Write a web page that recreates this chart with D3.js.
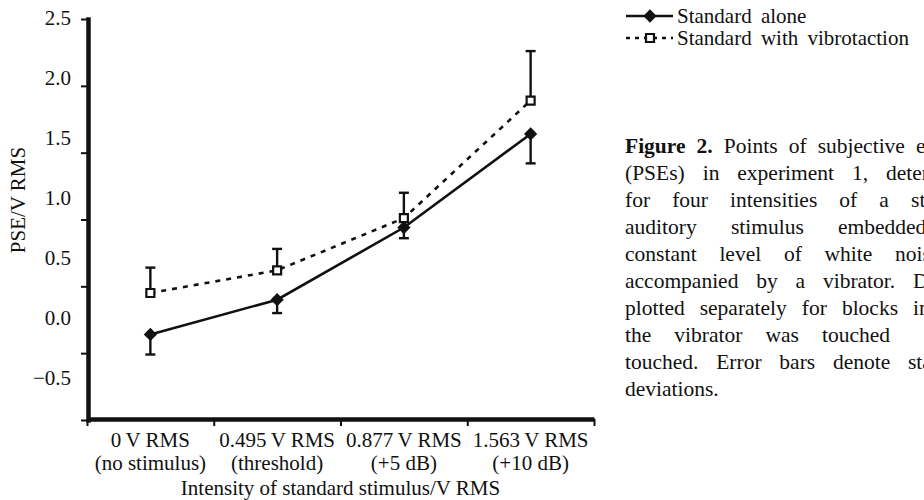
<!DOCTYPE html>
<html><head><meta charset="utf-8">
<script src="https://cdn.jsdelivr.net/npm/d3@7"></script>
<style>
html,body{margin:0;padding:0;background:#fff;overflow:hidden;}
svg{display:block;font-family:"Liberation Serif","Times New Roman",serif;}
</style></head><body>
<svg id="c" width="924" height="500"></svg>
<script>
// ---------- data ----------
const categoriesTop = ["0\u2009V RMS", "0.495\u2009V RMS", "0.877\u2009V RMS", "1.563\u2009V RMS"];
const categoriesBottom = ["(no stimulus)", "(threshold)", "(+5 dB)", "(+10 dB)"];
const aloneValues = [0.14, 0.40, 0.94, 1.64];
const aloneSD = [0.15, 0.10, 0.08, 0.22];
const vibroValues = [0.45, 0.62, 1.01, 1.89];
const vibroSD = [0.19, 0.16, 0.19, 0.37];
const yTickValues = [-0.5, 0, 0.5, 1, 1.5, 2, 2.5];
const yTickLabels = ["\u22120.5", "0.0", "0.5", "1.0", "1.5", "2.0", "2.5"];
const seriesNames = ["Standard alone", "Standard with vibrotaction"];
const yAxisTitle = "PSE/V RMS";
const xAxisTitle = "Intensity of standard stimulus/V RMS";
const captionBold = "Figure 2.";
const captionLines = [
  "Points of subjective equivalence",
  "(PSEs) in experiment 1, determined",
  "for four intensities of a standard",
  "auditory stimulus embedded in a",
  "constant level of white noise and",
  "accompanied by a vibrator. Data are",
  "plotted separately for blocks in which",
  "the vibrator was touched",
  "touched. Error bars denote standard",
  "deviations."
];

// ---------- layout ----------
const svg = d3.select("#c");
const FS = 21;
const plotLeft = 88, plotRight = 594, plotTop = 19, plotBottom = 420, xAxisY = 419;
const captionX = 625, captionY0 = 153, captionLH = 27;
// start x of the last visible word in each justified caption line (null = natural spacing)
const captionAnchors = [916, 886, 911, 838, 895, 913, 913, 822, 908, null];
const captionAnchorWord = [3, 4, 5, 2, 4, 4, 4, 3, 4, null];

const y = d3.scaleLinear().domain([-0.5, 2.5]).range([plotBottom, plotTop]);
const yLabelPos = d3.scaleLinear().domain([-0.5, 2.5]).range([384, 24]); // label baselines as typeset
const xBand = d3.scaleBand().domain(categoriesTop).range([87, plotRight]).padding(0);
const xEdge = d3.scaleLinear().domain([0, categoriesTop.length]).range([87, plotRight]);
const cx = i => xBand(categoriesTop[i]) + xBand.bandwidth() / 2;

// ---------- y axis ----------
const gy = svg.append("g").attr("transform", `translate(${plotLeft},0)`)
  .call(d3.axisLeft(y).tickValues(yTickValues)
    .tickFormat(d => yTickLabels[yTickValues.indexOf(d)])
    .tickSize(7).tickSizeOuter(0).tickPadding(10));
gy.select(".domain").attr("stroke", "#111").attr("stroke-width", 4.5).attr("stroke-linecap", "square");
gy.selectAll(".tick line").attr("stroke", "#111").attr("stroke-width", 2);
gy.selectAll(".tick text")
  .attr("font-size", FS).attr("fill", "#111").attr("font-family", "Liberation Serif")
  .attr("dy", null)
  .attr("y", d => yLabelPos(d) - y(d));

// ---------- x axis ----------
const gxe = svg.append("g").attr("transform", `translate(0,${xAxisY})`)
  .call(d3.axisBottom(xEdge).tickValues(d3.range(categoriesTop.length + 1)).tickFormat("").tickSize(7).tickSizeOuter(0));
gxe.select(".domain").attr("stroke", "#111").attr("stroke-width", 4.5);
gxe.selectAll(".tick line").attr("stroke", "#111").attr("stroke-width", 2);

const gx = svg.append("g").attr("transform", `translate(0,${xAxisY})`)
  .call(d3.axisBottom(xBand).tickSize(0).tickPadding(0));
gx.select(".domain").remove();
gx.selectAll(".tick text").each(function(d, i) {
  const t = d3.select(this).text(null).attr("y", 0).attr("dy", null)
    .attr("font-size", FS).attr("fill", "#111").attr("font-family", "Liberation Serif");
  t.append("tspan").attr("x", 0).attr("y", 28).text(categoriesTop[i]);
  t.append("tspan").attr("x", 0).attr("y", 51).text(categoriesBottom[i]);
});

// axis titles
svg.append("text").attr("x", (87 + plotRight) / 2).attr("y", 495)
  .attr("text-anchor", "middle").attr("font-size", FS).attr("fill", "#111").text(xAxisTitle);
svg.append("text").attr("transform", "translate(25,200) rotate(-90)")
  .attr("text-anchor", "middle").attr("font-size", FS).attr("fill", "#111").text(yAxisTitle);

// ---------- lines ----------
const line = d3.line().x((d, i) => cx(i)).y(d => y(d));
svg.append("path").datum(vibroValues).attr("d", line)
  .attr("fill", "none").attr("stroke", "#111").attr("stroke-width", 2.6).attr("stroke-dasharray", "5,6");
svg.append("path").datum(aloneValues).attr("d", line)
  .attr("fill", "none").attr("stroke", "#111").attr("stroke-width", 2.6);

// ---------- error bars ----------
const capW = 5;
function errBars(vals, sds, dir) {
  const g = svg.append("g").attr("stroke", "#111").attr("stroke-width", 2.4);
  vals.forEach((v, i) => {
    const end = v + dir * sds[i];
    g.append("line").attr("x1", cx(i)).attr("x2", cx(i)).attr("y1", y(v)).attr("y2", y(end));
    g.append("line").attr("x1", cx(i) - capW).attr("x2", cx(i) + capW).attr("y1", y(end)).attr("y2", y(end));
  });
}
errBars(vibroValues, vibroSD, +1);
errBars(aloneValues, aloneSD, -1);

// ---------- markers ----------
const squareSym = d3.symbol(d3.symbolSquare, 64);
const diamondSym = d3.symbol(d3.symbolSquare, 88);
svg.append("g").selectAll("path").data(vibroValues).join("path")
  .attr("d", squareSym).attr("transform", (d, i) => `translate(${cx(i)},${y(d)})`)
  .attr("fill", "#fff").attr("stroke", "#111").attr("stroke-width", 2.2);
svg.append("g").selectAll("path").data(aloneValues).join("path")
  .attr("d", diamondSym).attr("transform", (d, i) => `translate(${cx(i)},${y(d)}) rotate(45)`)
  .attr("fill", "#111");

// ---------- legend ----------
const legY = [16, 38];
const lg = svg.append("g");
lg.append("line").attr("x1", 626).attr("x2", 673).attr("y1", legY[0]).attr("y2", legY[0])
  .attr("stroke", "#111").attr("stroke-width", 2.6);
lg.append("path").attr("d", diamondSym).attr("transform", `translate(650,${legY[0]}) rotate(45)`).attr("fill", "#111");
lg.append("line").attr("x1", 626).attr("x2", 673).attr("y1", legY[1]).attr("y2", legY[1])
  .attr("stroke", "#111").attr("stroke-width", 2.6).attr("stroke-dasharray", "4,5");
lg.append("path").attr("d", squareSym).attr("transform", `translate(650,${legY[1]})`)
  .attr("fill", "#fff").attr("stroke", "#111").attr("stroke-width", 2.2);
seriesNames.forEach((n, i) => {
  lg.append("text").attr("x", 677).attr("y", legY[i] + 7).attr("font-size", FS)
    .attr("fill", "#111").attr("word-spacing", 4).text(n);
});

// ---------- caption ----------
captionLines.forEach((ln, i) => {
  const t = svg.append("text").attr("x", captionX).attr("y", captionY0 + i * captionLH)
    .attr("font-size", FS + 0.5).attr("fill", "#111");
  let prefixLen = 0;
  if (i === 0) {
    t.append("tspan").attr("font-weight", "bold").text(captionBold);
    t.append("tspan").text(" " + ln);
    prefixLen = captionBold.length + 1;
  } else {
    t.text(ln);
  }
  if (captionAnchors[i] != null) {
    const words = ln.split(" ");
    const k = captionAnchorWord[i];
    const charIdx = prefixLen + words.slice(0, k).join(" ").length + 1;
    const spaces = k + (i === 0 ? 2 : 0);
    const pos = t.node().getStartPositionOfChar(charIdx).x;
    const s = (captionAnchors[i] - pos) / spaces;
    t.style("word-spacing", s + "px");
  }
});
</script>
</body></html>
